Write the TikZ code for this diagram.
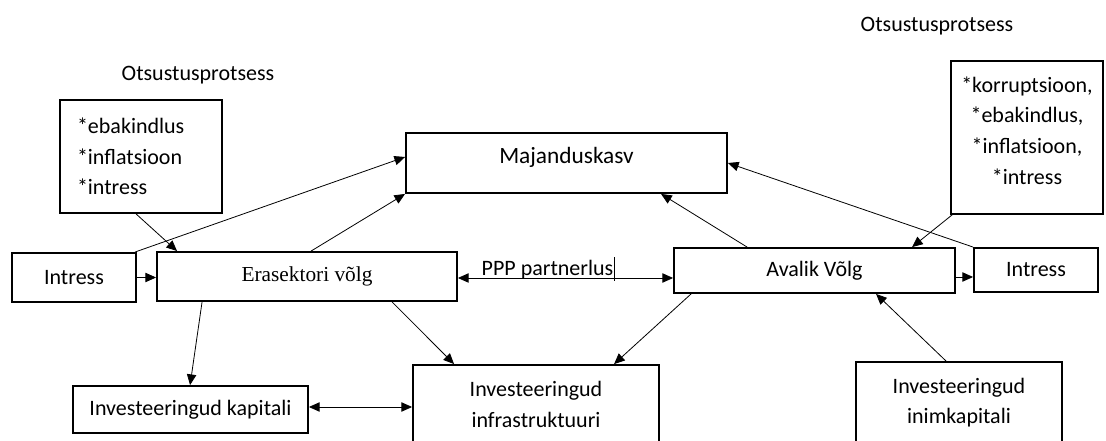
\documentclass[tikz,border=0pt]{standalone}
\usepackage{fontspec}
\setmainfont{Carlito}
\newfontfamily\timesface{Liberation Serif}
\usetikzlibrary{arrows.meta,calc}
\tikzset{
  box/.style  = {draw=black, line width=1.4pt, inner sep=0pt, align=center,
                 font=\fontsize{16.5}{23}\selectfont},
  lbl/.style  = {inner sep=0pt, font=\fontsize{16.5}{19}\selectfont},
  link/.style = {-{Triangle[length=8pt,width=7pt]}, line width=0.6pt},
  both/.style = {{Triangle[length=8pt,width=7pt]}-{Triangle[length=8pt,width=7pt]}, line width=0.6pt},
}

\begin{document}
\begin{tikzpicture}[x=0.75pt,y=-0.75pt]
  \clip (0,0) rectangle (1106,441);
  % titles
  \node[lbl] (otsL) at (198,75) {Otsustusprotsess};
  \node[lbl] (otsR) at (937,26) {Otsustusprotsess};
  % boxes
  \node[box,minimum width=121.5pt,minimum height=84.75pt,align=left,text width=96pt]
    (facL) at (141,156.5) {*ebakindlus\\{}*inflatsioon\\{}*intress};
  \node[box,minimum width=114pt,minimum height=114.75pt,text depth=10.5pt]
    (facR) at (1027,137.5) {*korruptsioon,\\{}*ebakindlus,\\{}*inflatsioon,\\{}*intress};
  \node[box,minimum width=240.75pt,minimum height=45pt,text depth=11.5pt,
        font=\fontsize{17.5}{21}\selectfont] (mk) at (566.5,163) {Majanduskasv};
  \node[box,minimum width=93pt,minimum height=36.75pt] (intL) at (74,277.5) {Intress};
  \node[box,minimum width=225pt,minimum height=36.75pt,font=\timesface\fontsize{16}{19}\selectfont]
    (era) at (307,276.5) {Erasektori võlg};
  \node[box,minimum width=210.75pt,minimum height=33.75pt] (avl) at (814.5,270.5) {Avalik Võlg};
  \node[box,minimum width=93pt,minimum height=33pt] (intR) at (1036,270) {Intress};
  \node[box,minimum width=176.25pt,minimum height=35.25pt] (kap) at (190.5,409.5) {Investeeringud kapitali};
  \node[box,minimum width=184.5pt,minimum height=59.25pt] (inf) at (536,404.5) {Investeeringud\\infrastruktuuri};
  \node[box,minimum width=154.5pt,minimum height=60.75pt] (inim) at (959,402.5) {Investeeringud\\inimkapitali};
  \node[lbl,anchor=base] (ppp) at (547.5,276) {PPP partnerlus};
  \draw[line width=0.9pt] ($(ppp.north east)+(1,-3)$) -- ($(ppp.south east)+(1,1)$);
  % connectors
  \draw[link] ($(facL.south west)+(77,0)$) -- ($(era.north west)+(21,0)$);
  \draw[link] (intL.east) -- (intL.east -| era.west);
  \draw[link] ($(intL.north east)+(-2,0)$) -- ($(mk.west)+(0,-6)$);
  \draw[link] ($(era.north west)+(155,0)$) -- (mk.south west);
  \draw[link] ($(avl.north west)+(74,0)$) -- ($(mk.south west)+(256,0)$);
  \draw[link] (intR.north west) -- (mk.east);
  \draw[link] ($(facR.south west)+(2,0)$) -- ($(avl.north west)+(239,0)$);
  \draw[link] ($(avl.east)+(0,6.5)$) -- ($(avl.east -| intR.west)+(0,6.5)$);
  \draw[link] ($(inim.north west)+(91,0)$) -- ($(avl.south west)+(203,0)$);
  \draw[link] ($(avl.south west)+(18,0)$) -- ($(inf.north west)+(202,0)$);
  \draw[link] ($(era.south west)+(236,0)$) -- ($(inf.north west)+(42,0)$);
  \draw[link] ($(era.south west)+(46,0)$) -- ($(kap.north west)+(118,0)$);
  \draw[both] ($(kap.east)+(0,-2.5)$) -- ($(kap.east -| inf.west)+(0,-2.5)$);
  \draw[both] ($(era.east)+(0,1.5)$) -- ($(era.east -| avl.west)+(0,1.5)$);
\end{tikzpicture}
\end{document}
